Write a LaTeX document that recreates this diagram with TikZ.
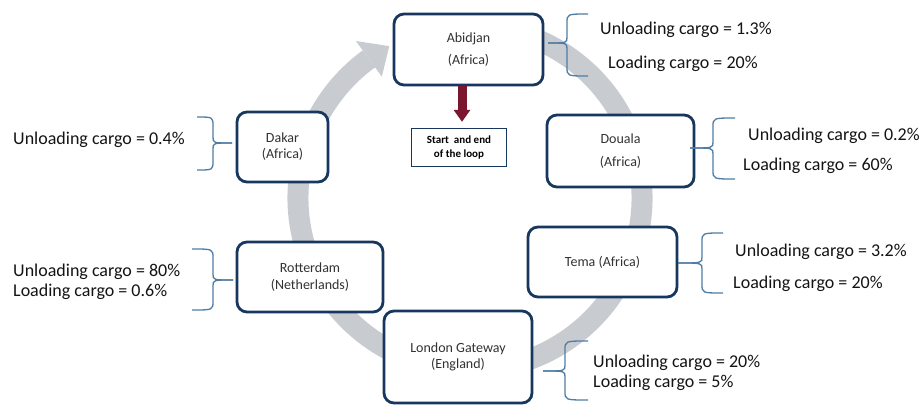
\documentclass[tikz,border=0pt]{standalone}
\usepackage{fontspec}
\setmainfont{Carlito}
\usetikzlibrary{arrows.meta,calc}
\definecolor{navy}{RGB}{23,55,94}
\definecolor{ringgray}{RGB}{200,203,208}
\definecolor{bracecol}{RGB}{80,125,165}
\definecolor{arrowred}{RGB}{122,22,45}
\definecolor{boxtext}{RGB}{50,50,50}
\definecolor{lbltext}{RGB}{20,20,20}
\newcommand{\mybrace}[6]{%
  \draw[bracestyle] (#1,#4) .. controls (#2,#4) .. (#2,#4+9) -- (#2,#5-6) .. controls (#2,#5) .. (#3,#5);
  \draw[bracestyle] (#3,#5) .. controls (#2,#5) .. (#2,#5+6) -- (#2,#6-9) .. controls (#2,#6) .. (#1,#6);}
\begin{document}
\begin{tikzpicture}[x=1pt,y=-1pt,
  box/.style={draw=navy, line width=2.8pt, rounded corners=10pt, fill=white, text=boxtext, align=center, inner sep=0pt},
  startbox/.style={draw=navy, line width=1.3pt, fill=white, text=black, align=center, inner sep=0pt, font=\bfseries\fontsize{11}{14}\selectfont},
  lbl/.style={anchor=base west, inner sep=0pt, font=\fontsize{18}{20}\selectfont, text=lbltext},
  bracestyle/.style={draw=bracecol, line width=1.3pt}]
\useasboundingbox (0,0) rectangle (922,407);
\fill[white] (0,0) rectangle (922,407);
% ring
\coordinate (rc) at (470,198);
\draw[ringgray, line width=21pt] ([shift={(-72:172)}]rc) arc[start angle=-72, end angle=234, radius=172];
\fill[ringgray] ([shift={(234:150)}]rc) -- ([shift={(242:172)}]rc) -- ([shift={(234:194)}]rc) -- cycle;
% boxes
\node[box, minimum width=149, minimum height=71, font=\fontsize{14}{22.5}\selectfont] (abidjan) at (468.5,49.5) {Abidjan\\(Africa)};
\node[box, minimum width=91, minimum height=70, font=\fontsize{14}{16}\selectfont] (dakar) at (282.5,147) {Dakar\\(Africa)};
\node[box, minimum width=147, minimum height=72, font=\fontsize{14}{23}\selectfont] (douala) at (620.5,151) {Douala\\(Africa)};
\node[box, minimum width=149, minimum height=70, font=\fontsize{14}{16}\selectfont] (tema) at (602.5,262) {Tema (Africa)};
\node[box, minimum width=146, minimum height=70, font=\fontsize{14}{17}\selectfont] (rotterdam) at (310,277) {Rotterdam\\(Netherlands)};
\node[box, minimum width=148, minimum height=92, font=\fontsize{14}{15.5}\selectfont] (london) at (458,357) {London Gateway\\(England)};
\node[startbox, minimum width=95, minimum height=38] (start) at (459,147.5) {Start~ and end\\of the loop};
% red arrow
\draw[line width=9pt, arrowred, -{Triangle[width=16pt,length=12pt]}, shorten >=6pt]
  ($(start.north |- abidjan.south)+(3,0)$) -- ($(start.north)+(3,0)$);
% braces
\mybrace{588}{567}{548}{14}{43}{76}
\mybrace{197}{213}{232}{117}{143}{170}
\mybrace{735}{713}{690}{118}{148}{179}
\mybrace{723}{702}{678}{233}{263}{293}
\mybrace{192}{213}{233}{249}{280}{310}
\mybrace{588}{565}{543}{341}{371}{400}
% labels
\node[lbl] (l1a) at (600,34) {Unloading cargo = 1.3\%};
\node[lbl] (l1b) at (608,68) {Loading cargo = 20\%};
\node[lbl] (l2) at (13,144) {Unloading cargo = 0.4\%};
\node[lbl] (l3a) at (748,140) {Unloading cargo = 0.2\%};
\node[lbl] (l3b) at (743,170) {Loading cargo = 60\%};
\node[lbl] (l4a) at (735,256) {Unloading cargo = 3.2\%};
\node[lbl] (l4b) at (733,288) {Loading cargo = 20\%};
\node[lbl] (l5a) at (13,276) {Unloading cargo = 80\%};
\node[lbl] (l5b) at (13,296) {Loading cargo = 0.6\%};
\node[lbl] (l6a) at (593,367) {Unloading cargo = 20\%};
\node[lbl] (l6b) at (593,387) {Loading cargo = 5\%};
\end{tikzpicture}
\end{document}
